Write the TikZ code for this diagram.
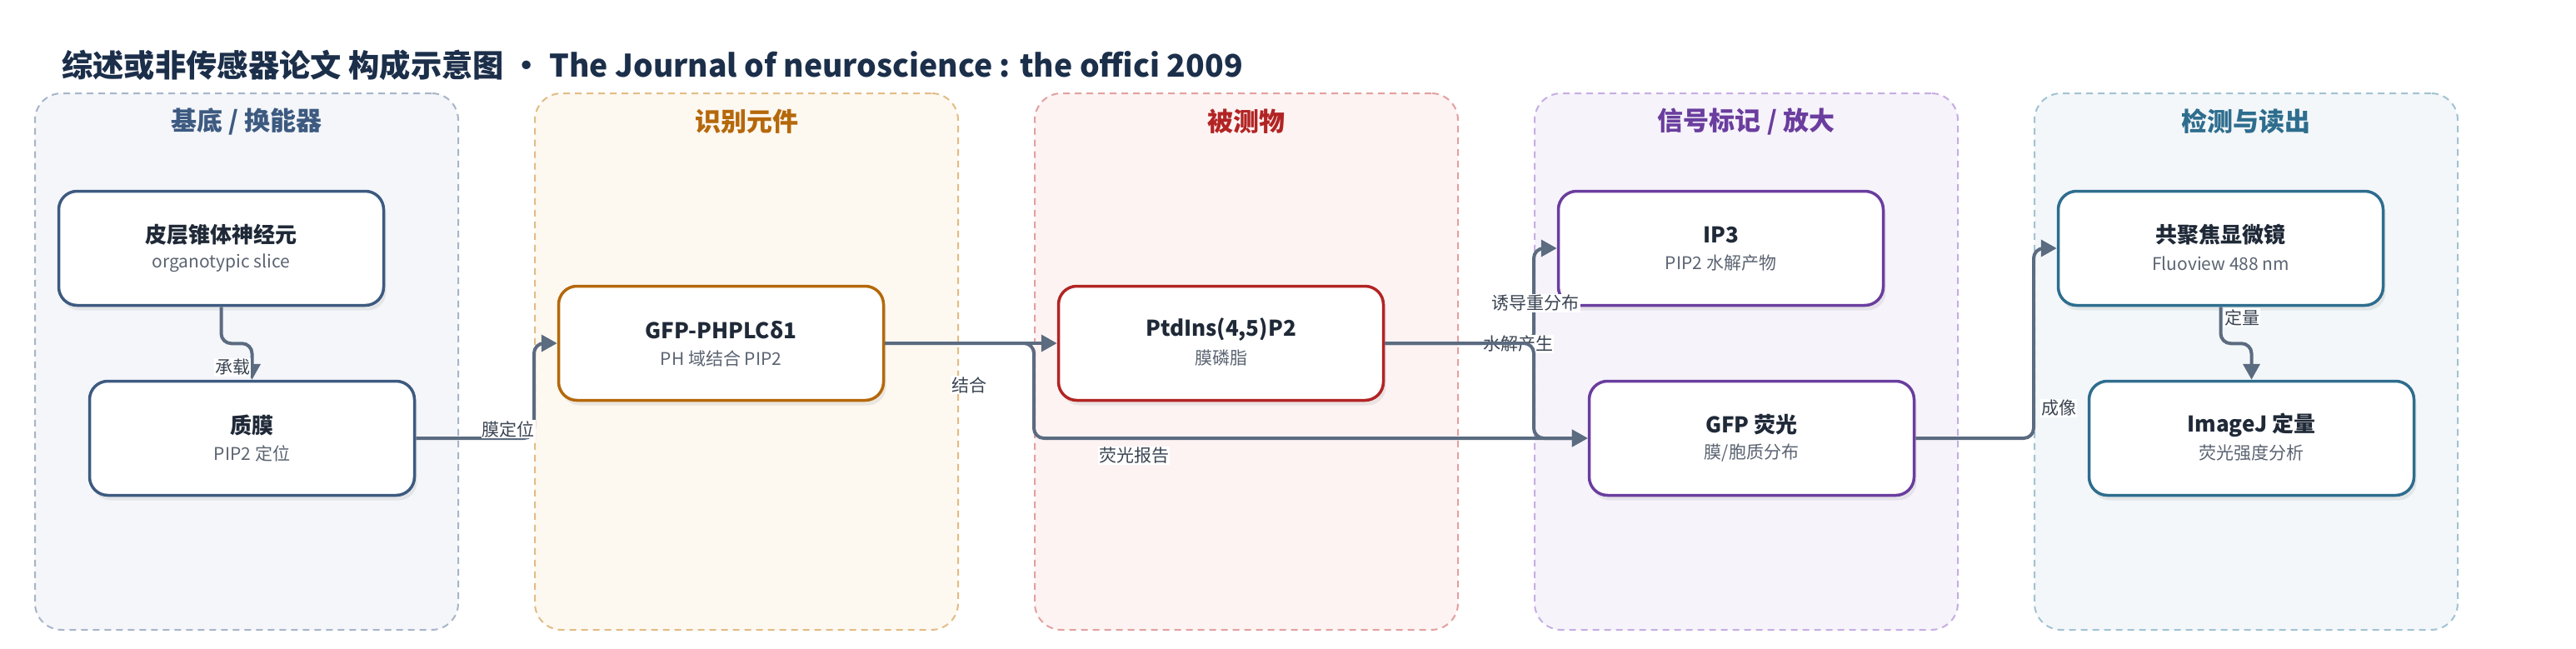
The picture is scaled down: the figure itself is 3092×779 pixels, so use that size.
\documentclass[tikz,border=0pt]{standalone}
\usepackage{fontspec}
\setmainfont{Noto Sans CJK SC}
\usetikzlibrary{arrows.meta,shadows,calc}
\definecolor{ttlc}{HTML}{1C2F4A}
\definecolor{gfa}{HTML}{F4F6FA}\definecolor{gba}{HTML}{A8B5C8}\definecolor{gta}{HTML}{3D5A80}
\definecolor{gfb}{HTML}{FDF8F0}\definecolor{gbb}{HTML}{E2BC85}\definecolor{gtb}{HTML}{B5680A}
\definecolor{gfc}{HTML}{FDF3F3}\definecolor{gbc}{HTML}{E3A0A0}\definecolor{gtc}{HTML}{B22424}
\definecolor{gfd}{HTML}{F6F3FB}\definecolor{gbd}{HTML}{C6AEE2}\definecolor{gtd}{HTML}{6A3D9E}
\definecolor{gfe}{HTML}{F3F7F9}\definecolor{gbe}{HTML}{A2C3D2}\definecolor{gte}{HTML}{2E6D8E}
\definecolor{edgec}{HTML}{5B6B80}
\definecolor{labc}{HTML}{3A4452}
\definecolor{ntc}{HTML}{1F2937}
\definecolor{nsc}{HTML}{5B6472}
\tikzset{
  grp/.style={draw, dash pattern=on 8pt off 6pt, line width=2pt, rounded corners=32pt,
    minimum width=508pt, minimum height=644pt, inner sep=0pt},
  gtitle/.style={font=\fontsize{31}{35}\selectfont\bfseries, inner sep=0pt},
  nbox/.style={draw, fill=white, line width=3.5pt, rounded corners=22pt,
    minimum width=390pt, minimum height=137pt, inner sep=0pt,
    drop shadow={shadow xshift=3pt, shadow yshift=-6pt, opacity=0.14}},
  ntitle/.style={font=\fontsize{26}{30}\selectfont\bfseries, text=ntc, inner sep=0pt},
  nsub/.style={font=\fontsize{21}{25}\selectfont, text=nsc, inner sep=0pt},
  edge/.style={draw=edgec, line width=4pt, rounded corners=12pt,
    -{Triangle[length=19pt,width=20pt]}},
  elab/.style={font=\fontsize{21}{25}\selectfont, text=labc, fill=white, inner sep=1pt}
}
\newcommand{\mkbox}[6]{%
  \node[nbox, draw=#4] (#1) at (#2,#3) {};
  \node[ntitle] (#1t) at ([yshift=16pt]#1.center) {#5};
  \node[nsub] (#1s) at ([yshift=-18pt]#1.center) {#6};
}
\begin{document}
\begin{tikzpicture}[x=1pt,y=-1pt]
\fill[white] (0,0) rectangle (3092,779);
\useasboundingbox (0,0) rectangle (3092,779);

\node[anchor=west, font=\fontsize{37.3}{41}\selectfont\bfseries, text=ttlc, inner sep=0pt] (title) at (74,78)
  {综述或非传感器论文 构成示意图 • The Journal of neuroscience : the offici 2009};

% groups
\node[grp, draw=gba, fill=gfa] (g1) at (296,434) {};
\node[grp, draw=gbb, fill=gfb] (g2) at (896,434) {};
\node[grp, draw=gbc, fill=gfc] (g3) at (1496,434) {};
\node[grp, draw=gbd, fill=gfd] (g4) at (2096,434) {};
\node[grp, draw=gbe, fill=gfe] (g5) at (2696,434) {};

\node[gtitle, text=gta] (g1t) at (296,146) {基底 / 换能器};
\node[gtitle, text=gtb] (g2t) at (896,146) {识别元件};
\node[gtitle, text=gtc] (g3t) at (1496,146) {被测物};
\node[gtitle, text=gtd] (g4t) at (2096,146) {信号标记 / 放大};
\node[gtitle, text=gte] (g5t) at (2696,146) {检测与读出};

% boxes
\mkbox{n1}{265.5}{298}{gta}{皮层锥体神经元}{organotypic slice}
\mkbox{n2}{302.5}{526}{gta}{质膜}{PIP2 定位}
\mkbox{n3}{865.5}{412}{gtb}{GFP-PHPLCδ1}{PH 域结合 PIP2}
\mkbox{n4}{1465.5}{412}{gtc}{PtdIns(4,5)P2}{膜磷脂}
\mkbox{n6}{2065.5}{298}{gtd}{IP3}{PIP2 水解产物}
\mkbox{n7}{2102.5}{526}{gtd}{GFP 荧光}{膜/胞质分布}
\mkbox{n8}{2665.5}{298}{gte}{共聚焦显微镜}{Fluoview 488 nm}
\mkbox{n9}{2702.5}{526}{gte}{ImageJ 定量}{荧光强度分析}

% edges
\draw[edge] (n1.south) -- ++(0,44) -| (n2.north);
\draw[edge] (n2.east) -- (n2.east -| g2.west) |- (n3.west);
\draw[edge] (n3.east) -- (n4.west);
\draw[edge] (n3.east) -- (n3.east -| g3.west) |- (n7.west);
\draw[edge] (n4.east) -- (n4.east -| g4.west) |- (n6.west);
\draw[edge] (n7.east) -- (n7.east -| g5.west) |- (n8.west);
\draw[edge] (n8.south) -- ++(0,44) -| (n9.north);

% labels
\node[elab] (l1) at (279,441) {承载};
\node[elab] (l2) at (610,515) {膜定位};
\node[elab] (l3) at (1163,462) {结合};
\node[elab] (l4) at (1361,547) {荧光报告};
\node[elab] (l5) at (1843,364) {诱导重分布};
\node[elab] (l6) at (1822,413) {水解产生};
\node[elab] (l7) at (2471,490) {成像};
\node[elab] (l8) at (2691,381) {定量};

\draw[edge] (n4.east) -- (n4.east -| g4.west) |- (n7.west);
\end{tikzpicture}
\end{document}
